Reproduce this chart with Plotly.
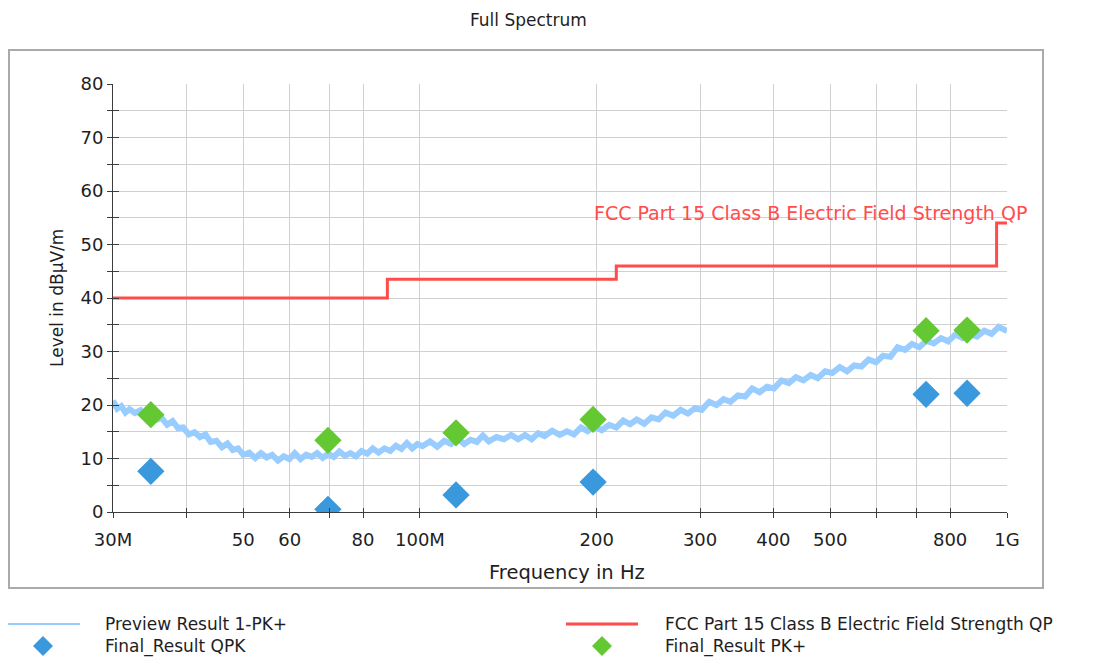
import plotly.graph_objects as go

# ---------------- data ----------------
preview_freq_mhz = [
    30, 30.5, 31, 31.5, 32, 32.7, 33.4, 34.1, 34.8, 35.5,
    36.3, 37.1, 37.9, 38.7, 39.5, 40.4, 41.3, 42.2, 43.1, 44,
    45, 46, 47, 48, 49, 50, 51.2, 52.4, 53.6, 54.8,
    56, 57.3, 58.6, 59.9, 61.2, 62.6, 64, 65.4, 66.8, 68.3,
    69.8, 71.3, 72.9, 74.5, 76.1, 77.8, 79.5, 81.3, 83.1, 85,
    87, 89, 91, 93, 95, 97, 99, 101, 104, 107,
    110, 113, 116, 119, 122, 125, 128, 131, 135, 139,
    143, 147, 151, 155, 159, 163, 168, 173, 178, 183,
    188, 193, 198, 204, 210, 216, 222, 228, 234, 241,
    248, 255, 262, 270, 278, 286, 294, 302, 311, 320,
    329, 338, 348, 358, 368, 379, 390, 401, 413, 425,
    437, 450, 463, 476, 490, 504, 519, 534, 549, 565,
    581, 598, 615, 633, 651, 670, 689, 709, 729, 750,
    772, 794, 817, 840, 864, 889, 915, 941, 968, 1000,
]
preview_level = [
    20.8, 19.3, 19.8, 18.6, 19.2, 18.5, 19.0, 17.6, 17.9, 17.2,
    17.6, 16.3, 17.0, 15.7, 15.8, 14.5, 14.9, 14.0, 14.5, 13.1,
    13.3, 12.1, 12.8, 11.6, 11.9, 10.7, 11.1, 10.1, 11.0, 10.2,
    10.7, 9.6, 10.4, 9.9, 11.0, 9.9, 10.7, 10.3, 11.0, 10.1,
    10.9, 10.3, 11.3, 10.5, 11.0, 10.4, 11.4, 10.9, 11.9, 11.1,
    11.9, 11.4, 12.4, 11.8, 12.9, 11.9, 12.7, 12.3, 13.2, 12.2,
    13.3, 12.7, 13.7, 12.7, 13.5, 13.1, 14.3, 13.2, 14.0, 13.6,
    14.4, 13.6, 14.4, 13.6, 14.7, 14.2, 15.2, 14.4, 15.1, 14.5,
    15.8, 15.1, 16.0, 15.3, 16.3, 15.8, 17.1, 16.4, 17.3, 16.5,
    17.7, 17.3, 18.6, 18.0, 19.1, 18.4, 19.4, 19.1, 20.6, 20.0,
    21.1, 20.6, 21.8, 21.6, 23.1, 22.4, 23.4, 23.1, 24.6, 24.1,
    25.2, 24.6, 25.6, 25.0, 26.3, 26.0, 27.1, 26.3, 27.4, 27.2,
    28.5, 28.0, 29.2, 29.0, 30.8, 30.3, 31.4, 30.8, 32.0, 31.5,
    32.5, 31.9, 33.2, 32.5, 33.3, 32.8, 33.9, 33.3, 34.6, 33.8,
]

limit_freq_mhz = [30, 88, 88, 216, 216, 960, 960, 1000]
limit_level = [40, 40, 43.5, 43.5, 46, 46, 54, 54]

final_freq_mhz = [34.8, 69.7, 115.2, 197.2, 728, 855]
final_qpk = [7.6, 0.5, 3.2, 5.6, 22.0, 22.2]
final_pk = [18.2, 13.4, 14.8, 17.3, 33.9, 34.0]

x_tick_mhz = [30, 40, 50, 60, 70, 80, 100, 200, 300, 400, 500, 600, 700, 800, 1000]
x_tick_text = ["30M", "", "50", "60", "", "80", "100M", "200", "300", "400", "500", "", "", "800", "1G"]

title_text = "Full Spectrum"
x_title = "Frequency in Hz"
y_title = "Level in dBµV/m"
limit_label = "FCC Part 15 Class B Electric Field Strength QP"
legend_names = ["Preview Result 1-PK+", "Final_Result QPK",
                "FCC Part 15 Class B Electric Field Strength QP", "Final_Result PK+"]

# ---------------- style ----------------
W, H = 1102, 666
OFF = 8  # page offset of the figure in the browser
FONT = "DejaVu Sans"
TXT = "#1e1e1e"
C_PREV = "rgb(153,204,255)"
C_LIMIT = "rgb(255,76,76)"
C_QPK = "rgb(58,152,220)"
C_PK = "rgb(100,200,50)"
GRID = "rgb(208,208,208)"
AX = "rgb(60,60,60)"

PL, PR, PT, PB = 113, 1007, 84, 512  # plot area in screen px


def px(x):
    return (x - OFF) / W


def py(y):
    return 1 - (y - OFF) / H


hz = lambda lst: [v * 1e6 for v in lst]

fig = go.Figure()
fig.add_trace(go.Scatter(x=hz(preview_freq_mhz), y=preview_level, mode="lines",
                         line=dict(color=C_PREV, width=6), name=legend_names[0],
                         showlegend=False))
fig.add_trace(go.Scatter(x=hz(limit_freq_mhz), y=limit_level, mode="lines",
                         line=dict(color=C_LIMIT, width=3), name=legend_names[2],
                         showlegend=False))
fig.add_trace(go.Scatter(x=hz(final_freq_mhz), y=final_qpk, mode="markers",
                         marker=dict(symbol="diamond", size=21, color=C_QPK),
                         name=legend_names[1], showlegend=False))
fig.add_trace(go.Scatter(x=hz(final_freq_mhz), y=final_pk, mode="markers",
                         marker=dict(symbol="diamond", size=21, color=C_PK),
                         name=legend_names[3], showlegend=False))
# empty trace to register overlay axes (inner half of crossing ticks)
fig.add_trace(go.Scatter(x=[], y=[], xaxis="x2", yaxis="y2", showlegend=False,
                         hoverinfo="skip"))

xr = [7.4771212547, 9.0]
fig.update_layout(
    width=W, height=H,
    margin=dict(l=0, r=0, t=0, b=0, autoexpand=False),
    paper_bgcolor="white", plot_bgcolor="white",
    font=dict(family=FONT, color=TXT, size=16),
    showlegend=False,
    xaxis=dict(type="log", range=xr, domain=[px(PL), px(PR)], automargin=False,
               tickvals=hz(x_tick_mhz), ticktext=x_tick_text,
               showgrid=True, gridcolor=GRID, gridwidth=1,
               showline=True, linecolor=AX, linewidth=1,
               ticks="outside", ticklen=5, tickcolor=AX, ticklabelstandoff=6,
               tickfont=dict(size=18, family=FONT, color=TXT), zeroline=False,
               anchor="y"),
    yaxis=dict(range=[0, 80], domain=[py(PB), py(PT)], dtick=10, tick0=0,
               automargin=False,
               showgrid=True, gridcolor=GRID, gridwidth=1,
               showline=True, linecolor=AX, linewidth=1,
               ticks="outside", ticklen=5, tickcolor=AX,
               minor=dict(dtick=5, ticks="outside", ticklen=5, tickcolor=AX,
                          showgrid=True, gridcolor=GRID),
               tickfont=dict(size=18, family=FONT, color=TXT), zeroline=False,
               anchor="x"),
    xaxis2=dict(type="log", range=xr, domain=[px(PL), px(PR)], overlaying="x",
                automargin=False,
                anchor="y2", tickvals=hz(x_tick_mhz), showticklabels=False,
                ticks="inside", ticklen=4, tickcolor=AX, showgrid=False,
                zeroline=False, showline=False),
    yaxis2=dict(range=[0, 80], domain=[py(PB), py(PT)], overlaying="y",
                automargin=False,
                anchor="x2", dtick=5, tick0=0, showticklabels=False,
                ticks="inside", ticklen=6, tickcolor=AX, showgrid=False,
                zeroline=False, showline=False),
)

shapes = []
annotations = []
# outer frame
shapes.append(dict(type="rect", xref="paper", yref="paper",
                   x0=px(9), x1=px(1043), y0=py(588), y1=py(50),
                   line=dict(color="rgb(170,170,170)", width=2), layer="below"))


def label(text, x, y, size, color=TXT, xanchor="center", angle=0):
    return dict(text=text, xref="paper", yref="paper", x=px(x), y=py(y),
                xanchor=xanchor, yanchor="middle", showarrow=False,
                textangle=angle, font=dict(size=size, family=FONT, color=color))


annotations.append(label(title_text, 528, 20, 17))
annotations.append(label(x_title, 567, 572, 19.5))
annotations.append(label(y_title, 57, 298, 17, angle=-90))
annotations.append(label(limit_label, 1029, 213, 19, color=C_LIMIT, xanchor="right"))


# legend (manual, two columns)
def diamond(cx, cy, r, color):
    pts = [(cx, cy - r), (cx + r, cy), (cx, cy + r), (cx - r, cy)]
    path = "M " + " L ".join(f"{px(a)},{py(b)}" for a, b in pts) + " Z"
    return dict(type="path", xref="paper", yref="paper", path=path,
                fillcolor=color, line=dict(width=0))


shapes.append(dict(type="line", xref="paper", yref="paper", x0=px(8), x1=px(80),
                   y0=py(624), y1=py(624), line=dict(color=C_PREV, width=2)))
shapes.append(diamond(43, 646, 10, C_QPK))
shapes.append(dict(type="line", xref="paper", yref="paper", x0=px(566), x1=px(638),
                   y0=py(624), y1=py(624), line=dict(color=C_LIMIT, width=3)))
shapes.append(diamond(602, 646, 10, C_PK))
for (tx, ty, name) in [(103, 624, legend_names[0]), (103, 646, legend_names[1]),
                       (663, 624, legend_names[2]), (663, 646, legend_names[3])]:
    annotations.append(label(name, tx, ty, 17, xanchor="left"))

fig.update_layout(shapes=shapes, annotations=annotations)
fig.write_html("out.html")
